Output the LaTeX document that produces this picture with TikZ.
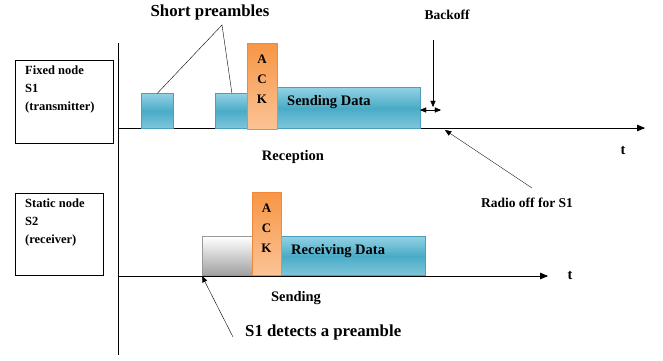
\documentclass[tikz,border=0pt]{standalone}
\usepackage{fontspec}
\setmainfont{Liberation Serif}
\usetikzlibrary{positioning,arrows,calc}
\definecolor{pkttop}{HTML}{92D1E3}
\definecolor{pktmid}{HTML}{4AABC7}
\definecolor{pktbot}{HTML}{80C6DB}
\definecolor{pktline}{HTML}{4A9FBF}
\definecolor{acktop}{HTML}{F79646}
\definecolor{ackbot}{HTML}{FBC396}
\definecolor{ackline}{HTML}{F08A3A}
\tikzset{lbl/.style={font=\fontsize{12.5}{18}\selectfont\bfseries, inner sep=0pt},
big/.style={font=\fontsize{16.8}{18}\selectfont\bfseries, inner sep=0pt},
small/.style={font=\fontsize{13.5}{15}\selectfont\bfseries, inner sep=0pt},
mid/.style={font=\fontsize{14.5}{16}\selectfont\bfseries, inner sep=0pt},
host/.style={draw=black, line width=1.3pt, anchor=north west, inner sep=0pt},
pkt/.style={draw=pktline, thick, top color=pkttop, bottom color=pktbot, middle color=pktmid,
anchor=south west, inner sep=0pt},
ack/.style={draw=ackline, thick, top color=acktop, bottom color=ackbot, anchor=south west, inner sep=0pt},
idle/.style={draw=gray!80, thick, top color=white, bottom color=gray!75, anchor=south west, inner sep=0pt},
axis/.style={line width=0.8pt},
>={triangle 45}}
\begin{document}
\begin{tikzpicture}[x=1pt,y=-1pt]
  \useasboundingbox (0,0) rectangle (663,360);
  % hosts
  \node[host, minimum width=98, minimum height=83] (s1) at (15,60) {};
  \node[lbl, anchor=north west, align=left] (s1txt) at (25,66) {Fixed node\\S1\\(transmitter)};
  \node[host, minimum width=88, minimum height=82] (s2) at (15,193) {};
  \node[lbl, anchor=north west, align=left] (s2txt) at (25,199) {Static node\\S2\\(receiver)};
  % time axes
  \coordinate (top) at (118,43);
  \coordinate (bot) at (118,355);
  \draw[axis] (top) -- (bot);
  \coordinate (t1a) at (118,128);
  \coordinate (t1b) at (645,128);
  \coordinate (t2a) at (118,276);
  \coordinate (t2b) at (548,276);
  \draw[axis,->] (t1a) -- (t1b);
  \draw[axis,->] (t2a) -- (t2b);
  \node[mid] (t1) at (623,150) {t};
  \node[mid] (t2) at (570,275) {t};
  % S1 frames
  \node[pkt, minimum width=32, minimum height=35] (pre1) at (141,129) {};
  \node[pkt, minimum width=33, minimum height=35] (pre2) at (215,129) {};
  \node[pkt, minimum width=143, minimum height=41] (send) at (277,129) {};
  \node[ack, minimum width=30, minimum height=86] (ack1) at (247,130) {};
  \node[lbl, align=center, font=\fontsize{13}{20}\selectfont\bfseries] (ack1txt) at (262,79) {A\\C\\K};
  \node[mid, anchor=west] (sendtxt) at (287,102) {Sending Data};
  % S2 frames
  \node[idle, minimum width=50, minimum height=39] (det) at (202,276) {};
  \node[pkt, minimum width=144, minimum height=39] (recv) at (281,276) {};
  \node[ack, minimum width=29, minimum height=83] (ack2) at (252,276) {};
  \node[lbl, align=center, font=\fontsize{13}{20}\selectfont\bfseries] (ack2txt) at (266.5,228) {A\\C\\K};
  \node[mid, anchor=west] (recvtxt) at (291,251) {Receiving Data};
  % labels
  \node[big] (short) at (210,12) {Short preambles};
  \coordinate (apex) at (222,25);
  \draw[thin] (pre1.north) -- (apex) -- (pre2.north);
  \node[mid] (rx) at (293,157) {Reception};
  \node[mid] (tx) at (296,298) {Sending};
  \node[small] (backoff) at (447,15) {Backoff};
  \coordinate (bo1) at (433,40);
  \coordinate (bo2) at (433,107);
  \draw[->] (bo1) -- (bo2);
  \coordinate (bo3) at (420,110);
  \coordinate (bo4) at (441,110);
  \draw[<->] (bo3) -- (bo4);
  \node[small] (radio) at (527,203) {Radio off for S1};
  \coordinate (ro1) at (532,188);
  \coordinate (ro2) at (445,130);
  \draw[->] (ro1) -- (ro2);
  \node[big, anchor=west] (detect) at (245,332) {S1 detects a preamble};
  \coordinate (dt1) at (233,337);
  \draw[->] (dt1) -- (det.south west);
\end{tikzpicture}
\end{document}
